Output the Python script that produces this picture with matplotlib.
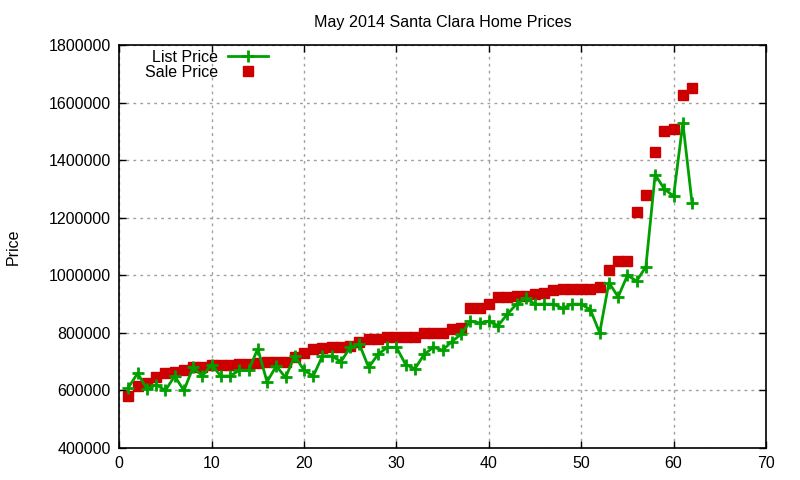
import numpy as np
import matplotlib
matplotlib.use("Agg")
import matplotlib.pyplot as plt

plt.rcParams['font.family'] = ['Liberation Sans', 'DejaVu Sans']

# house index (1..62)
house = list(range(1, 63))

list_price = [610000, 660000, 605000, 620000, 600000, 650000, 600000, 680000, 650000, 690000,
              650000, 650000, 670000, 670000, 745000, 630000, 685000, 645000, 720000, 670000,
              650000, 720000, 720000, 700000, 750000, 760000, 680000, 725000, 750000, 750000,
              690000, 675000, 725000, 750000, 740000, 770000, 795000, 840000, 835000, 840000,
              825000, 865000, 900000, 920000, 900000, 900000, 900000, 885000, 900000, 900000,
              880000, 800000, 975000, 925000, 1000000, 980000, 1030000, 1350000, 1300000, 1275000,
              1530000, 1250000]

sale_price = [580000, 615000, 625000, 645000, 660000, 665000, 670000, 680000, 682000, 688000,
              690000, 690000, 692000, 692000, 695000, 700000, 700000, 700000, 715000, 730000,
              743000, 748000, 750000, 750000, 753000, 770000, 780000, 780000, 785000, 785000,
              785000, 785000, 798000, 798000, 801000, 815000, 818000, 885000, 888000, 900000,
              925000, 926000, 929000, 929000, 936000, 940000, 950000, 951000, 951000, 953000,
              953000, 960000, 1020000, 1050000, 1050000, 1220000, 1280000, 1430000, 1500000, 1510000,
              1625000, 1650000]

fig = plt.figure(figsize=(8, 4.8), dpi=100)
ax = fig.add_axes([0.149, 0.0667, 0.8085, 0.8393])

ax.plot(house, list_price, color='#00a000', lw=2, marker='+', ms=9, mew=2,
        label='List Price', zorder=3)
ax.plot(house, sale_price, color='#cc0000', ls='none', marker='s', ms=6.5,
        label='Sale Price', zorder=2)

ax.set_xlim(0, 70)
ax.set_ylim(400000, 1800000)
ax.set_xticks(np.arange(0, 71, 10))
ax.set_yticks(np.arange(400000, 1800001, 200000))
ax.ticklabel_format(axis='y', style='plain', useOffset=False)
ax.tick_params(direction='in', length=5, width=1, top=True, right=True,
               labelsize=11.5, colors='black', pad=6)
ax.grid(True, color='#a0a0a0', linestyle=(0, (2, 3)), linewidth=1)
for s in ax.spines.values():
    s.set_linewidth(1.2)

ax.set_title('May 2014 Santa Clara Home Prices', fontsize=11.6, pad=13)
fig.text(0.016, 0.485, 'Price', rotation=90, fontsize=11.5, va='center', ha='center')

leg = ax.legend(loc='upper left', frameon=False, markerfirst=False, fontsize=11.5,
                handlelength=2.5, labelspacing=0.0, borderaxespad=0.0,
                bbox_to_anchor=(0.03, 1.004), handletextpad=0.6)
for t in leg.get_texts():
    t.set_ha('right')
leg._legend_box.align = 'right'

fig.savefig('out.png', dpi=100)
